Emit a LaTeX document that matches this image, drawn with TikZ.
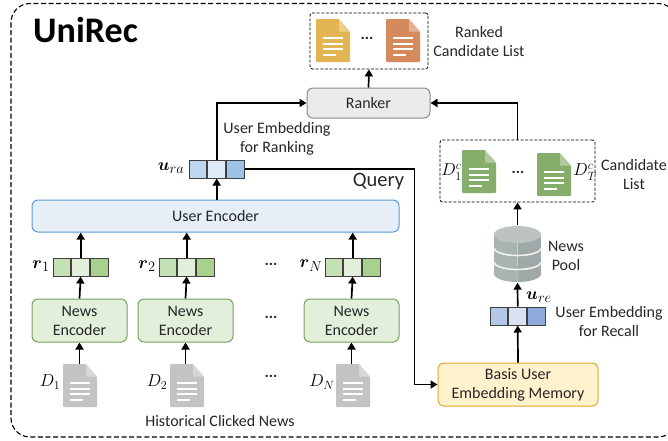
\documentclass[tikz,border=0pt]{standalone}
\usepackage{amsmath}
\usepackage{fontspec}
\setmainfont{Carlito}
\usetikzlibrary{arrows.meta,calc}
\definecolor{docyel}{HTML}{E2B552}
\definecolor{docora}{HTML}{D48A5A}
\definecolor{docgrn}{HTML}{86AE6A}
\definecolor{docgry}{HTML}{C3C3C3}
\definecolor{encedge}{HTML}{75A35B}
\definecolor{encfill}{HTML}{E2EFDA}
\definecolor{uenedge}{HTML}{5B9BD5}
\definecolor{uenfill}{HTML}{E6EEF8}
\definecolor{memedge}{HTML}{DDAA2A}
\definecolor{memfill}{HTML}{FFF2CC}
\definecolor{ubluea}{HTML}{BDD7EE}
\definecolor{ublueb}{HTML}{DEEAF6}
\definecolor{ubluec}{HTML}{9DC3E6}
\definecolor{gra}{HTML}{C5E0B4}
\definecolor{grb}{HTML}{E2F0D9}
\definecolor{grc}{HTML}{A9D18E}
\definecolor{bla}{HTML}{B4C7E7}
\definecolor{blb}{HTML}{DAE3F3}
\definecolor{blc}{HTML}{8FAADC}
\definecolor{cyltop}{HTML}{BDC3C3}
\definecolor{cylleft}{HTML}{A8B4B0}
\definecolor{cylright}{HTML}{9FA9A9}
\tikzset{
  x=1pt,y=-1pt,
  every node/.style={font=\fontsize{16}{19}\selectfont,text=black!85,inner sep=0pt,align=center},
  arr/.style={draw=black,line width=1.7pt,-{Triangle[length=7pt,width=8pt]}},
  boxdash/.style={draw=black,line width=.8pt,dash pattern=on 3pt off 1.6pt,rounded corners=2.5pt},
  rbox/.style={rounded corners=6pt,line width=1pt},
  encbox/.style={rbox,draw=encedge,fill=encfill,minimum width=95pt,minimum height=43pt},
  cell/.style={draw=black!75,line width=1pt,minimum height=18pt,minimum width=17.7pt},
  docanchor/.style={minimum width=34pt,minimum height=43pt},
  mathlab/.style={font=\fontsize{19}{21}\selectfont,text=black},
  dlab/.style={font=\fontsize{17}{19}\selectfont,text=black},
  dotsl/.style={font=\fontsize{16}{19}\selectfont\bfseries},
}
\newcommand{\docicon}[4]{%
  \node[docanchor] (#1) at (#2,#3) {};
  \fill[#4,rounded corners=1pt] (#2-17,#3-21.5) -- (#2+6,#3-21.5) -- (#2+17,#3-9) -- (#2+17,#3+21.5) -- (#2-17,#3+21.5) -- cycle;
  \fill[white,opacity=.35] (#2+6,#3-21.5) -- (#2+17,#3-9) -- (#2+6,#3-9) -- cycle;
  \fill[white] (#2-10,#3-3.5) rectangle (#2+10,#3-1.5);
  \fill[white] (#2-10,#3+2) rectangle (#2+10,#3+4);
  \fill[white] (#2-10,#3+7.5) rectangle (#2+10,#3+9.5);
  \fill[white] (#2-10,#3+13) rectangle (#2+3,#3+15);
}
\newcommand{\vecbox}[6]{%
  \node[cell,fill=#4] (#1a) at (#2,#3) {};
  \node[cell,fill=#5,anchor=west] (#1) at (#1a.east) {};
  \node[cell,fill=#6,anchor=west] (#1c) at (#1.east) {};
}
\begin{document}
\begin{tikzpicture}
\useasboundingbox (0,0) rectangle (668,440);
\begin{scope}
\clip (0,0) rectangle (668,440);
\draw[line width=1.1pt,dash pattern=on 5pt off 2.6pt,rounded corners=19pt] (11,3.5) rectangle (677,437);
\end{scope}
\node[font=\fontsize{36}{40}\selectfont\bfseries,text=black,anchor=west] (title) at (33,30) {UniRec};

% ranked list
\node[boxdash,minimum width=118pt,minimum height=56pt] (ranked) at (369,41) {};
\docicon{ryel}{333}{40.5}{docyel}
\docicon{rora}{403}{40.5}{docora}
\node[dotsl] (rdots) at (367,38) {...};
\node (rlabel) at (479,41) {Ranked\\Candidate List};

% ranker
\node[rbox,draw=black!45,fill=black!8,minimum width=123pt,minimum height=30pt] (ranker) at (368.5,103) {Ranker};

% user embedding for ranking
\vecbox{ura}{198}{169}{ubluea}{ublueb}{ubluec}
\node[mathlab] (uralab) at (171,168) {$\boldsymbol{u}_{ra}$};
\node (urank) at (277,139) {User Embedding\\for Ranking};
\node[font=\fontsize{20.5}{22}\selectfont] (query) at (378.5,181) {Query};

% user encoder
\node[rbox,draw=uenedge,fill=uenfill,minimum width=367pt,minimum height=32pt] (uenc) at (215.5,216) {User Encoder};

% news encoders
\node[encbox] (ne1) at (79.5,320.5) {News\\Encoder};
\node[encbox] (ne2) at (185.5,320.5) {News\\Encoder};
\node[encbox] (ne3) at (351.5,320.5) {News\\Encoder};

% news vectors
\vecbox{r1}{62}{267}{gra}{grb}{grc}
\vecbox{r2}{168}{267}{gra}{grb}{grc}
\vecbox{r3}{334}{267}{gra}{grb}{grc}
\node[mathlab] (r1lab) at (41,266) {$\boldsymbol{r}_1$};
\node[mathlab] (r2lab) at (147,266) {$\boldsymbol{r}_2$};
\node[mathlab] (r3lab) at (311,266) {$\boldsymbol{r}_N$};
\node[dotsl] (d1) at (271,264) {...};
\node[dotsl] (d2) at (271,317) {...};
\node[dotsl] (d3) at (271,376) {...};

% clicked docs
\docicon{c1}{80}{385.5}{docgry}
\docicon{c2}{187}{385.5}{docgry}
\docicon{c3}{353}{385.5}{docgry}
\node[dlab] (c1lab) at (50,382) {$D_1$};
\node[dlab] (c2lab) at (157,382) {$D_2$};
\node[dlab] (c3lab) at (322,382) {$D_N$};
\node (hist) at (220,421) {Historical Clicked News};

% candidate list
\node[boxdash,minimum width=155pt,minimum height=62pt] (cand) at (517.5,171) {};
\docicon{cg1}{479}{171.5}{docgrn}
\docicon{cg2}{554}{174.5}{docgrn}
\node[dlab] (cg1lab) at (451.5,172) {$D_1^c$};
\node[dlab] (cg2lab) at (585,172) {$D_T^c$};
\node[dotsl] (cdots) at (518,172) {...};
\node (clabel) at (634,174.5) {Candidate\\List};

% news pool
\node[minimum width=47pt,minimum height=57pt] (pool) at (517.5,254) {};
\begin{scope}
  \clip (494,225) rectangle (517.5,290);
  \fill[cylleft] (494,234.5) rectangle (517.5,274);
  \fill[cylleft] (517.5,274) ellipse[x radius=23.5,y radius=8];
\end{scope}
\begin{scope}
  \clip (517.5,225) rectangle (541,290);
  \fill[cylright] (517.5,234.5) rectangle (541,274);
  \fill[cylright] (517.5,274) ellipse[x radius=23.5,y radius=8];
\end{scope}
\foreach \bandy in {248,262}{
  \begin{scope}
    \clip (490,\bandy) rectangle (545,\bandy+12);
    \draw[white!90!gray,line width=1.6pt] (517.5,\bandy) ellipse[x radius=23.5,y radius=7.5];
  \end{scope}
}
\fill[cyltop] (517.5,234.5) ellipse[x radius=23.5,y radius=8.5];
\node (plabel) at (566,255.5) {News\\Pool};

% recall
\vecbox{ure}{499}{316}{bla}{blb}{blc}
\node[mathlab] (urelab) at (539,297) {$\boldsymbol{u}_{re}$};
\node (urecall) at (609,321.5) {User Embedding\\for Recall};

% memory
\node[rbox,draw=memedge,fill=memfill,minimum width=160pt,minimum height=43pt] (mem) at (518,384.5) {Basis User\\Embedding Memory};

% connectors
\draw[arr] (ranker.north) -- (ranked.south);
\draw[arr] (ura.north) |- (ranker.west);
\draw[arr] (uenc.north -| ura) -- (ura.south);
\draw[arr] (cand.north) |- (ranker.east);
\draw[arr] (urac.east) -| ($(mem.west)+(-23,0)$) -- (mem.west);
\draw[arr] (pool.north) -- (cand.south);
\draw[arr] (ure.north) -- (pool.south);
\draw[arr] (mem.north) -- (ure.south);
\foreach \i in {1,2,3}{
  \draw[arr] (r\i.north) -- (r\i.north |- uenc.south);
  \draw[arr] (ne\i.north) -- (r\i.south);
  \draw[arr] (c\i.north -| ne\i) -- (ne\i.south);
}
\end{tikzpicture}
\end{document}
